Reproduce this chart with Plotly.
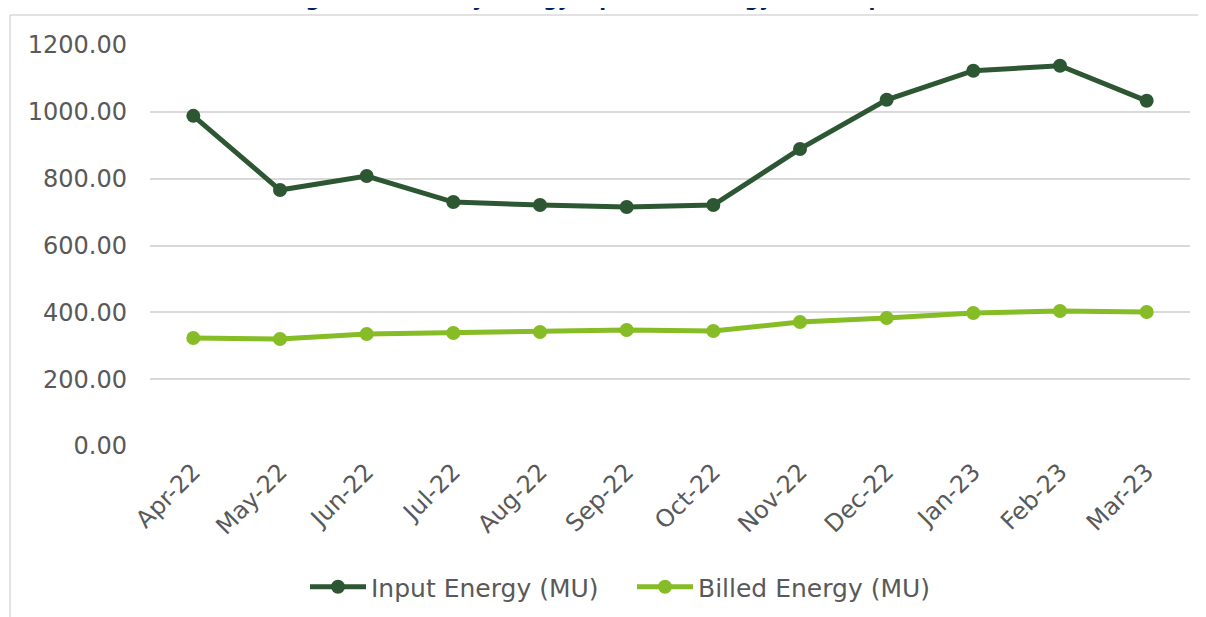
import plotly.graph_objects as go

months = ["Apr-22", "May-22", "Jun-22", "Jul-22", "Aug-22", "Sep-22",
          "Oct-22", "Nov-22", "Dec-22", "Jan-23", "Feb-23", "Mar-23"]
input_energy = [988, 766, 808, 730, 721, 715, 721, 889, 1036, 1123, 1138, 1033]
billed_energy = [323, 320, 335, 338, 341, 347, 344, 371, 383, 398, 404, 401]
y_ticks = [0, 200, 400, 600, 800, 1000, 1200]
title_text = "Figure 1: Monthly Energy Input and Energy Consumption"

FONT = "DejaVu Sans, Verdana, sans-serif"
OFF = 8  # page body margin
W, H = 1206 - OFF, 617 - OFF
L, T = 150 - OFF, 45 - OFF
R = W - (1190 - OFF)
B = H - (446 - OFF)
pw = W - L - R
ph = H - T - B

def px_x(x):  # screen pixel -> paper x
    return (x - OFF - L) / pw

def px_y(y):  # screen pixel -> paper y
    return (H - B - (y - OFF)) / ph

fig = go.Figure()
fig.add_trace(go.Scatter(
    x=months, y=input_energy, name="Input Energy (MU)", mode="lines+markers",
    line=dict(color="#2D5733", width=5), marker=dict(size=14, color="#2D5733")))
fig.add_trace(go.Scatter(
    x=months, y=billed_energy, name="Billed Energy (MU)", mode="lines+markers",
    line=dict(color="#86BC25", width=5), marker=dict(size=14, color="#86BC25")))

fig.update_layout(
    template="none",
    width=W, height=H,
    margin=dict(l=L, r=R, t=T, b=B, autoexpand=False),
    paper_bgcolor="white", plot_bgcolor="white",
    font=dict(family=FONT, color="#595959", size=24),
    showlegend=True,
    legend=dict(orientation="h", x=px_x(305), xanchor="left", y=px_y(587), yanchor="middle",
                font=dict(size=25, color="#595959", family=FONT),
                itemwidth=56, entrywidth=256, entrywidthmode="pixels",
                bgcolor="rgba(0,0,0,0)"),
    xaxis=dict(type="category", range=[-0.5, len(months) - 0.5],
               showgrid=False, showline=False, ticks="",
               tickangle=-45, tickfont=dict(size=24, color="#595959"),
               ticklabelstandoff=6, automargin=False, fixedrange=True),
    yaxis=dict(range=[0, 1200], tickvals=y_ticks, tickformat=".2f",
               showgrid=True, gridcolor="#D9D9D9", gridwidth=1.5,
               zeroline=False, showline=False, ticks="", automargin=False,
               tickfont=dict(size=24, color="#595959"), ticklabelstandoff=22),
    shapes=[
        dict(type="line", xref="paper", yref="paper", x0=px_x(10), x1=px_x(1300),
             y0=px_y(15), y1=px_y(15), line=dict(color="#D9D9D9", width=1.5)),
        dict(type="line", xref="paper", yref="paper", x0=px_x(10), x1=px_x(10),
             y0=px_y(15), y1=px_y(700), line=dict(color="#D9D9D9", width=1.5)),
    ],
    annotations=[dict(text="<b>" + title_text + "</b>", xref="paper", yref="paper",
                      x=px_x(283), xanchor="left", y=px_y(13), yanchor="bottom",
                      showarrow=False, font=dict(size=20, color="#002060", family=FONT))],
)

fig.write_html("out.html")
